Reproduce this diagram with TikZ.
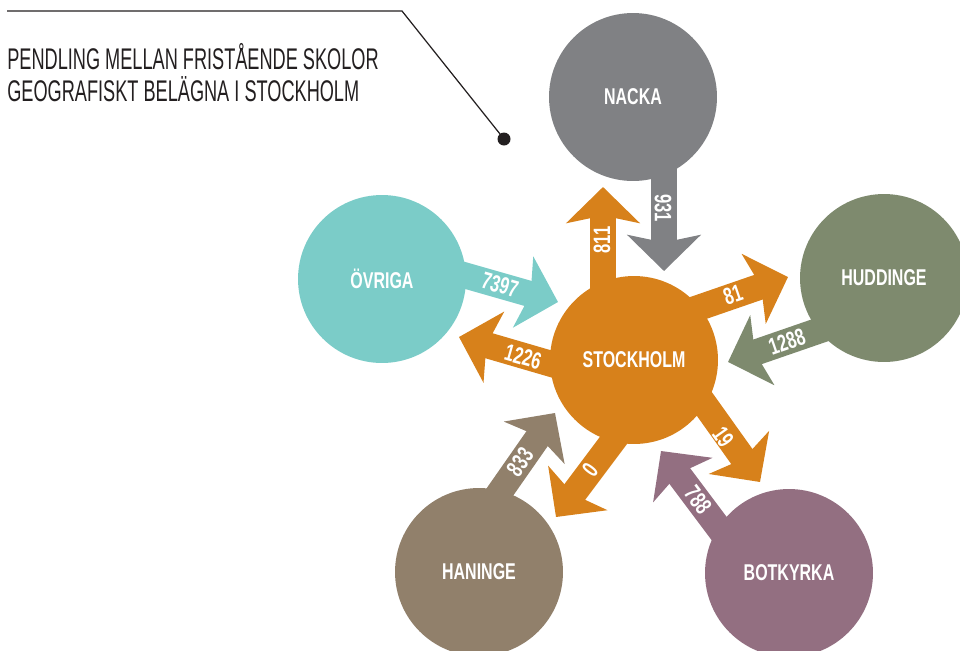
\documentclass[tikz,border=0pt]{standalone}
\usepackage{fontspec}
\setmainfont{Liberation Sans}
\newfontfamily\condfont[FakeStretch=0.70]{Liberation Sans}
\newfontfamily\headfont[FakeStretch=0.608]{Liberation Sans}
\usetikzlibrary{arrows.meta}
\definecolor{ink}     {HTML}{231F20}
\definecolor{orange}  {HTML}{D7811B}
\definecolor{slate}   {HTML}{808184}
\definecolor{aqua}    {HTML}{7BCCC8}
\definecolor{moss}    {HTML}{7E8A6E}
\definecolor{clay}    {HTML}{91806B}
\definecolor{mauve}   {HTML}{936F81}

\begin{document}
\begin{tikzpicture}[x=0.02cm, y=-0.02cm,
  town/.style={circle, minimum size=3.36cm, inner sep=0pt, text=white,
               font=\condfont\bfseries\fontsize{13}{13}\selectfont},
  flow/.style={line width=0.52cm,
               -{Stealth[length=0.72cm, width=1.46cm, inset=0.15cm]}},
  count/.style={inner sep=0pt, text=white,
                font=\condfont\bfseries\fontsize{13.5}{13.5}\selectfont}]
 \useasboundingbox (0,0) rectangle (960,650);

 % title and leader
 \node[anchor=west, align=left, inner sep=0pt, text=ink,
       font=\headfont\fontsize{17}{18.2}\selectfont] (title) at (7,73)
 {PENDLING MELLAN FRISTÅENDE SKOLOR\\GEOGRAFISKT BELÄGNA I STOCKHOLM};
 \node[circle, fill=ink, minimum size=0.26cm, inner sep=0pt] (pin) at (504,139) {};
 \coordinate (lead) at (7,11);
 \coordinate (bend) at (402,11);
 \draw[ink, line width=0.7pt] (lead) -- (bend) -- (pin.center);

 % arrow ends
 \coordinate (s811)  at (603,300); \coordinate (t811)  at (603,187);
 \coordinate (s931)  at (664,150); \coordinate (t931)  at (664,271);
 \coordinate (s81)   at (646,326); \coordinate (t81)   at (788,277);
 \coordinate (s1288) at (870,313); \coordinate (t1288) at (728,362);
 \coordinate (s7397) at (404,258); \coordinate (t7397) at (558,302);
 \coordinate (s1226) at (603,379); \coordinate (t1226) at (459,337);
 \coordinate (s833)  at (458,552); \coordinate (t833)  at (555,413);
 \coordinate (s0)    at (646,397); \coordinate (t0)    at (556,517);
 \coordinate (s19)   at (673,360); \coordinate (t19)   at (760,482);
 \coordinate (s788)  at (757,579); \coordinate (t788)  at (661,451);

 \draw[flow, orange] (s811)  -- (t811);
 \draw[flow, slate]  (s931)  -- (t931);
 \draw[flow, orange] (s81)   -- (t81);
 \draw[flow, moss]   (s1288) -- (t1288);
 \draw[flow, aqua]   (s7397) -- (t7397);
 \draw[flow, orange] (s1226) -- (t1226);
 \draw[flow, clay]   (s833)  -- (t833);
 \draw[flow, orange] (s0)    -- (t0);
 \draw[flow, orange] (s19)   -- (t19);
 \draw[flow, mauve]  (s788)  -- (t788);

 % places
 \node[town, fill=slate]  (nacka)    at (633,97)  {NACKA};
 \node[town, fill=moss]   (huddinge) at (884,278) {HUDDINGE};
 \node[town, fill=orange] (sthlm)    at (634,360) {STOCKHOLM};
 \node[town, fill=aqua]   (ovriga)   at (382,279) {ÖVRIGA};
 \node[town, fill=clay]   (haninge)  at (479,572) {HANINGE};
 \node[town, fill=mauve]  (botkyrka) at (789,573) {BOTKYRKA};

 % counts
 \node[count, rotate=90]    (n811)  at (602,240) {811};
 \node[count, rotate=-90]   (n931)  at (663,208) {931};
 \node[count, rotate=19]    (n81)   at (733,295) {81};
 \node[count, rotate=19]    (n1288) at (787,342) {1288};
 \node[count, rotate=-16]   (n7397) at (500,285) {7397};
 \node[count, rotate=-16]   (n1226) at (523,357) {1226};
 \node[count, rotate=55]    (n833)  at (520,462) {833};
 \node[count, rotate=53]    (n0)    at (590,470) {0};
 \node[count, rotate=-54.5] (n19)   at (723,437) {19};
 \node[count, rotate=-53]   (n788)  at (698,500) {788};
\end{tikzpicture}
\end{document}
